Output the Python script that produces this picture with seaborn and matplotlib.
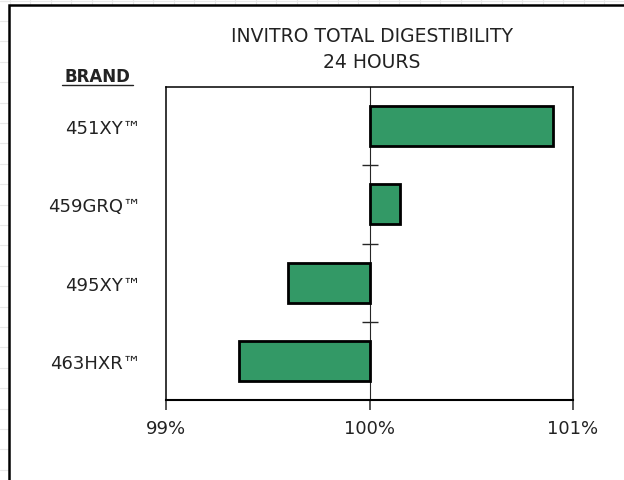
import numpy as np
import pandas as pd
import seaborn as sns
import matplotlib.pyplot as plt
from matplotlib.lines import Line2D
from matplotlib.patches import Rectangle
from matplotlib.ticker import FixedLocator

brands = ['451XY™', '459GRQ™', '495XY™', '463HXR™']
digestibility = [100.90, 100.15, 99.60, 99.36]   # % of reference
xtick_labels = ['99%', '100%', '101%']

df = pd.DataFrame({'brand': brands, 'value': digestibility})
df['diff'] = df['value'] - 100   # bars grow from the 100% line

sns.set_style('white')
plt.rcParams['font.family'] = ['DejaVu Sans']

fig = plt.figure(figsize=(6.24, 4.81), dpi=100)
W, H = 624, 481

# spreadsheet grid peeking out at top and left
for x in np.arange(9.5, W, 20.5):
    fig.lines.append(Line2D([x / W, x / W], [1, 1 - 5 / H], color='#e8e8e8', lw=0.8,
                            transform=fig.transFigure, zorder=-3))
fig.lines.append(Line2D([0, 1], [1 - 1.5 / H, 1 - 1.5 / H], color='#e8e8e8', lw=0.8,
                        transform=fig.transFigure, zorder=-3))
for y in np.arange(1.5, H, 20.4):
    fig.lines.append(Line2D([0, 8 / W], [1 - y / H, 1 - y / H], color='#e8e8e8', lw=0.8,
                            transform=fig.transFigure, zorder=-3))
fig.patches.append(Rectangle((9 / W, -0.05), 1.1, 1 - 6 / H + 0.05, transform=fig.transFigure,
                             facecolor='white', edgecolor='black', lw=1.8, zorder=-2))

ax = fig.add_axes([166 / W, 1 - 401 / H, 407 / W, 313 / H])
sns.barplot(data=df, x='diff', y='brand', orient='h', color='#339966', saturation=1,
            width=0.51, edgecolor='black', linewidth=2.0, ax=ax)

ax.set_xlim(-1, 1)
ax.set_ylim(3.5, -0.5)
ax.set_xticks([-1, 0, 1])
ax.set_xticklabels(xtick_labels, fontsize=13, color='#222222')
ax.tick_params(axis='x', direction='out', length=7, width=1.1, pad=7, bottom=True)
ax.tick_params(axis='y', length=0, pad=18, labelsize=13, labelcolor='#222222')
ax.set_xlabel('')
ax.set_ylabel('')
for s in ax.spines.values():
    s.set_visible(True)
    s.set_color('black')
    s.set_linewidth(1.1)
ax.spines['bottom'].set_linewidth(1.5)

# vertical axis through 100% with category separators
mid = ax.secondary_yaxis(0.5)
mid.spines['left'].set_linewidth(1.0)
mid.yaxis.set_major_locator(FixedLocator([0.5, 1.5, 2.5]))
mid.set_yticklabels([])
mid.tick_params(axis='y', direction='inout', length=11, width=1.0)

fig.text(372 / W, 1 - 37 / H, 'INVITRO TOTAL DIGESTIBILITY', ha='center', va='center',
         fontsize=13.5, color='#222222')
fig.text(372 / W, 1 - 63 / H, '24 HOURS', ha='center', va='center',
         fontsize=13.5, color='#222222')
fig.text(97 / W, 1 - 77 / H, 'BRAND', ha='center', va='center', fontsize=12,
         fontweight='bold', family=['Liberation Sans Narrow', 'DejaVu Sans'], color='#222222')
fig.lines.append(Line2D([62 / W, 133 / W], [1 - 86 / H, 1 - 86 / H], color='#222222', lw=1.0,
                        transform=fig.transFigure))

fig.savefig('out.png', dpi=100)
